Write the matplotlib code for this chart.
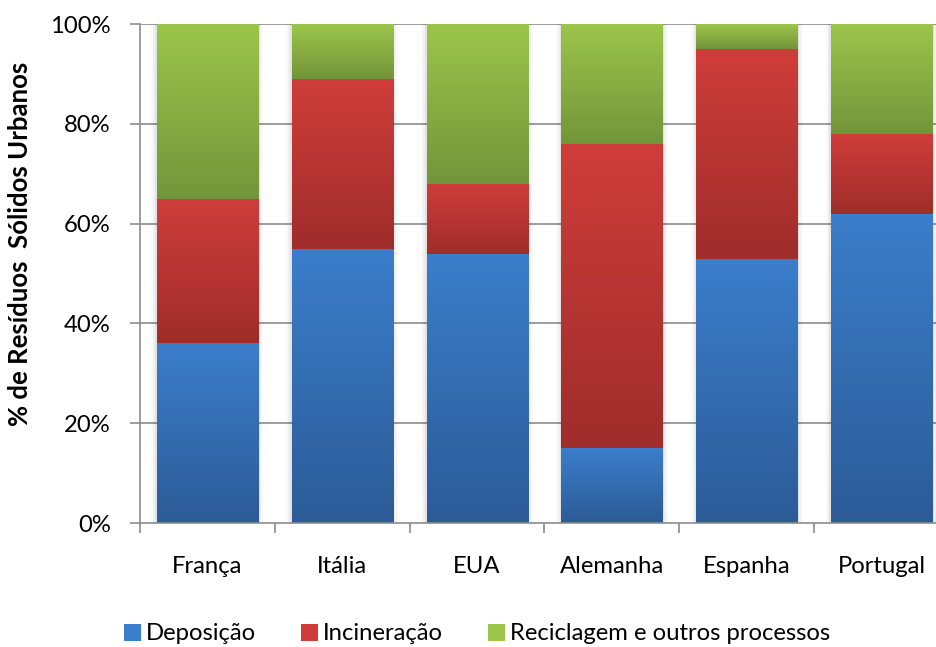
import numpy as np
import matplotlib
matplotlib.use("Agg")
import matplotlib.pyplot as plt
from matplotlib.colors import LinearSegmentedColormap
from matplotlib.patches import Patch, Rectangle

plt.rcParams['font.family'] = ['Lato', 'DejaVu Sans']

# Data: share (%) of urban solid waste by treatment
countries = ["França", "Itália", "EUA", "Alemanha", "Espanha", "Portugal"]
deposicao = [36, 55, 54, 15, 53, 62]
incineracao = [29, 34, 14, 61, 42, 16]
reciclagem = [35, 11, 32, 24, 5, 22]
series_names = ["Deposição", "Incineração", "Reciclagem e outros processos"]
yticks = [0, 20, 40, 60, 80, 100]

# (top/light, bottom/dark) colours per series
grads = [("#3b7ecb", "#2c5b97"),
         ("#cf3d3a", "#9f2d2b"),
         ("#9cc54b", "#73953a")]

W, H = 937, 647
fig = plt.figure(figsize=(W / 100, H / 100), dpi=100)
left, right_edge, top, bottom = 140, 949, 24, 523
ax = fig.add_axes([left / W, (H - bottom) / H, (right_edge - left) / W, (bottom - top) / H])

n = len(countries)
x = np.arange(n)
bw = 0.75
FS = 17.2

# faint shadow at the sides of each bar
for xi in x:
    for k, a in [(0.04, 0.025), (0.025, 0.035), (0.012, 0.05)]:
        ax.add_patch(Rectangle((xi - bw / 2 - k, 0), bw + 2 * k, 100, facecolor="#000000",
                               alpha=a, edgecolor="none", zorder=1.5))

grad = np.linspace(0, 1, 256).reshape(-1, 1)
series = [deposicao, incineracao, reciclagem]
bottoms = np.zeros(n)
for vals, (light, dark) in zip(series, grads):
    cmap = LinearSegmentedColormap.from_list("g", [dark, light])
    for i, v in enumerate(vals):
        b = bottoms[i]
        ax.imshow(grad, cmap=cmap, origin="lower", aspect="auto",
                  extent=[x[i] - bw / 2, x[i] + bw / 2, b, b + v], zorder=2,
                  interpolation="bilinear")
    bottoms += np.array(vals)

ax.set_xlim(-0.5, n - 0.5)
ax.set_ylim(0, 100)

# grid and axes styling
ax.set_yticks(yticks)
ax.set_yticklabels([f"{t}%" for t in yticks])
for t in yticks[1:]:
    ax.axhline(t, color="#8c8c8c", lw=1.2, zorder=1)
ax.set_xticks(x)
ax.set_xticklabels(countries)
ax.set_xticks(np.arange(-0.5, n, 1), minor=True)
ax.tick_params(axis="x", which="major", length=0, pad=24, labelsize=FS)
ax.tick_params(axis="x", which="minor", length=7, color="#8c8c8c", width=1.2)
ax.tick_params(axis="y", length=7, color="#8c8c8c", width=1.2, labelsize=FS, pad=14)
for s in ["top", "right"]:
    ax.spines[s].set_visible(False)
for s in ["left", "bottom"]:
    ax.spines[s].set_color("#8c8c8c")
    ax.spines[s].set_linewidth(1.2)

ax.set_ylabel("% de Resíduos  Sólidos Urbanos", fontsize=18.5, fontweight="bold")
ax.yaxis.set_label_coords(-0.133, 0.56)

handles = [Patch(facecolor=g[0], edgecolor="none") for g in grads]
fig.legend(handles, series_names, loc="center", bbox_to_anchor=(477 / W, 1 - 634 / H),
           ncol=3, frameon=False, fontsize=FS, handlelength=0.7, handleheight=0.7,
           handletextpad=0.2, columnspacing=1.9)

fig.savefig("out.png", dpi=100)
